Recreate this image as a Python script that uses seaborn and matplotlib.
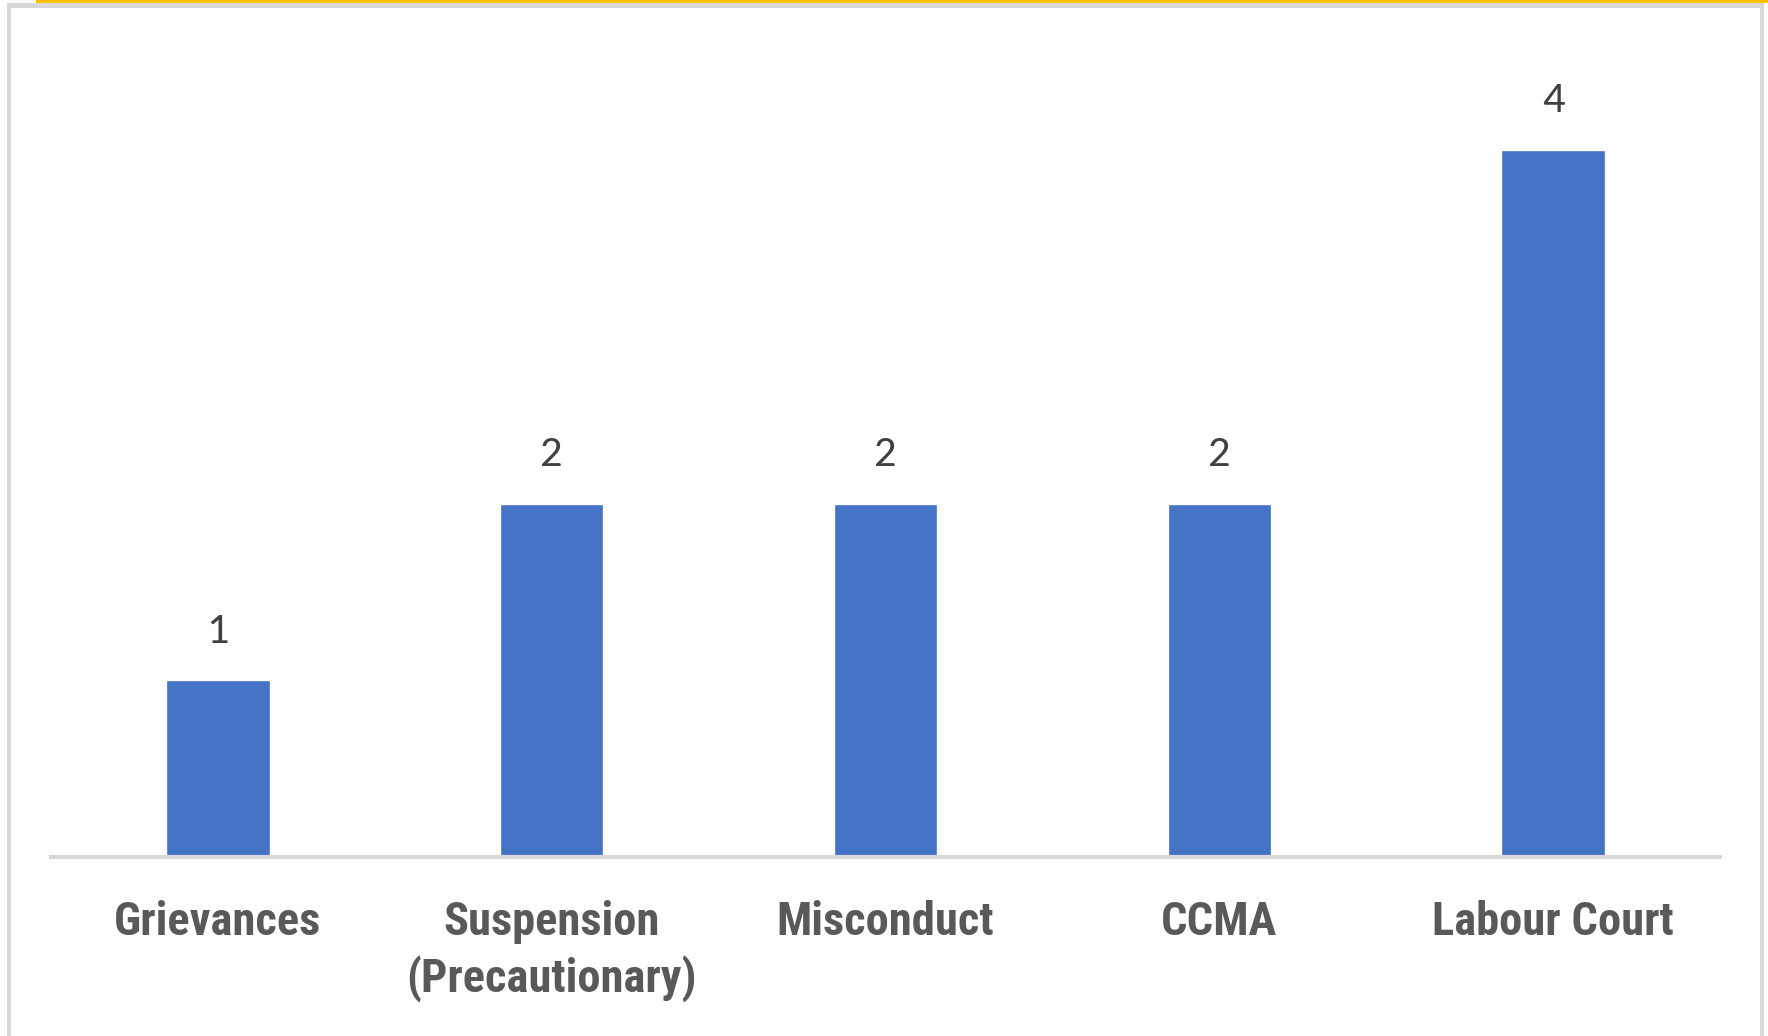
import matplotlib
matplotlib.use("Agg")
import matplotlib.pyplot as plt
from matplotlib.patches import Rectangle
import seaborn as sns
import pandas as pd

categories = ["Grievances", "Suspension\n(Precautionary)", "Misconduct", "CCMA", "Labour Court"]
values = [1, 2, 2, 2, 4]

sns.set_style("white")
plt.rcParams['font.family'] = ['Roboto Condensed', 'Liberation Sans', 'DejaVu Sans']

W, H = 1768, 1036
fig = plt.figure(figsize=(W / 100, H / 100), dpi=100)
fig.patch.set_facecolor("white")

ax_left, ax_right = 51 / W, 1720 / W
ax_bottom = 1 - 857 / H
ax_top = 1 - 30 / H
ax = fig.add_axes([ax_left, ax_bottom, ax_right - ax_left, ax_top - ax_bottom])

df = pd.DataFrame({"category": categories, "value": values})
sns.barplot(data=df, x="category", y="value", color="#4472C4", width=0.31,
            saturation=1, ax=ax)

ymax = (857 - 30) / 176.75
ax.set_ylim(0, ymax)
ax.set_xlim(-0.5, 4.5)
ax.set_xlabel("")
ax.set_ylabel("")
ax.set_yticks([])
for s in ["top", "right", "left"]:
    ax.spines[s].set_visible(False)
ax.spines["bottom"].set_color("#D9D9D9")
ax.spines["bottom"].set_linewidth(3)
ax.tick_params(axis="x", length=0, pad=31)
for lbl in ax.get_xticklabels():
    lbl.set_fontsize(33.5)
    lbl.set_fontweight("bold")
    lbl.set_color("#595959")
    lbl.set_linespacing(1.31)

for cont in ax.containers:
    ax.bar_label(cont, labels=[str(v) for v in values], padding=22,
                 fontsize=32, color="#404040",
                 family=['Carlito', 'Liberation Sans', 'DejaVu Sans'])

# frame decorations
grey = "#D9D9D9"
fig.patches.append(Rectangle((36 / W, 1 - 3 / H), 1 - 36 / W, 3 / H,
                             transform=fig.transFigure, facecolor="#FFC000",
                             edgecolor="none"))
fig.patches.append(Rectangle((7 / W, 0), 4 / W, 1 - 3 / H,
                             transform=fig.transFigure, facecolor=grey,
                             edgecolor="none"))
fig.patches.append(Rectangle((7 / W, 1 - 8 / H), (1764 - 7) / W, 5 / H,
                             transform=fig.transFigure, facecolor=grey,
                             edgecolor="none"))
fig.patches.append(Rectangle((1760 / W, 0), 4 / W, 1 - 3 / H,
                             transform=fig.transFigure, facecolor=grey,
                             edgecolor="none"))

fig.savefig("out.png", dpi=100, facecolor="white")
